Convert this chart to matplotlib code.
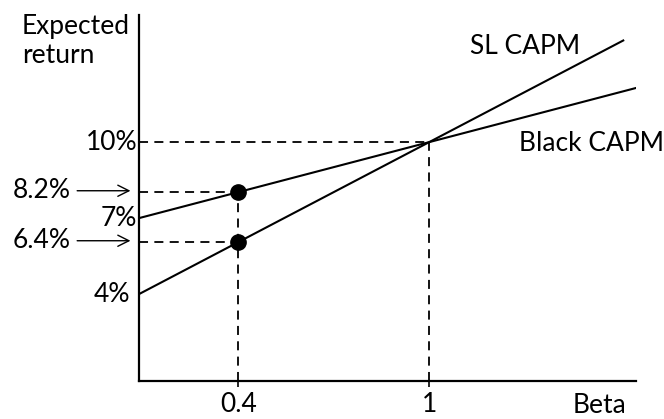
import matplotlib.pyplot as plt

# values (schematic)
sl_beta = [0.09, 1.61]
sl_ret = [4.54, 13.66]
black_beta = [0.09, 1.65]
black_ret = [7.27, 11.95]

point_beta = [0.4, 0.4]
point_ret = [8.2, 6.4]
market_beta = 1
market_ret = 10

x_ticks = [0.4, 1]
x_labels = ["0.4", "1"]

plt.rcParams['font.family'] = ['Lato', 'DejaVu Sans']

fig = plt.figure(figsize=(6.64, 4.19), dpi=100)
ax = fig.add_axes([0.2093, 0.0907, 0.7485, 0.873])
ax.set_xlim(0.088, 1.65)
ax.set_ylim(1.4, 14.57)

ax.spines['top'].set_visible(False)
ax.spines['right'].set_visible(False)
ax.spines['left'].set_linewidth(1.6)
ax.spines['bottom'].set_linewidth(1.6)
ax.set_yticks([])
ax.set_xticks(x_ticks)
ax.set_xticklabels(x_labels, fontsize=19)
ax.tick_params(axis='x', length=4, width=1.2, pad=4)

# the two lines
ax.plot(sl_beta, sl_ret, color='black', lw=1.5)
ax.plot(black_beta, black_ret, color='black', lw=1.5)

# dashed guides
dash = dict(color='black', lw=1.3, ls=(0, (5, 3.5)))
ax.plot([0.088, market_beta], [market_ret, market_ret], **dash)
ax.plot([market_beta, market_beta], [1.4, market_ret], **dash)
for b, r in zip(point_beta, point_ret):
    ax.plot([0.088, b], [r, r], **dash)
ax.plot([point_beta[0], point_beta[0]], [1.4, max(point_ret)], **dash)

ax.plot(point_beta, point_ret, 'o', color='black', ms=11, zorder=5)

# y labels
fs = 19
ax.text(0.082, 10, "10%", ha='right', va='center', fontsize=fs)
ax.text(0.082, 7.25, "7%", ha='right', va='center', fontsize=fs)
ax.text(0.06, 4.5, "4%", ha='right', va='center', fontsize=fs)
for r, lab in zip(point_ret, ["8.2%", "6.4%"]):
    ax.text(-0.31, r + 0.05, lab, ha='left', va='center', fontsize=fs)
    ax.annotate("", xy=(0.07, r + 0.05), xytext=(-0.115, r + 0.05),
                arrowprops=dict(arrowstyle='->', color='black', lw=1.0,
                                mutation_scale=20),
                annotation_clip=False)

ax.text(-0.28, 14.6, "Expected\nreturn", ha='left', va='top', fontsize=fs,
        linespacing=1.2)
ax.text(1.535, 0.5, "Beta", ha='center', va='center', fontsize=fs)
ax.text(1.3, 13.45, "SL CAPM", ha='center', va='center', fontsize=fs)
ax.text(1.51, 9.96, "Black CAPM", ha='center', va='center', fontsize=fs)

fig.savefig("out.png", dpi=100)
